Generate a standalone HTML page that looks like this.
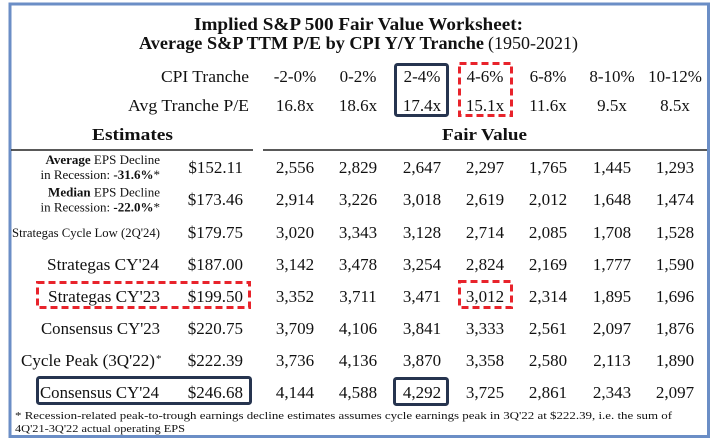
<!DOCTYPE html>
<html>
<head>
<meta charset="utf-8">
<style>
  html, body { margin: 0; padding: 0; background: #ffffff; }
  svg { display: block; }
  text { font-family: "Liberation Serif", "DejaVu Serif", serif; fill: #111111; }
  .b { font-weight: bold; }
</style>
</head>
<body>
<svg width="717" height="445" viewBox="0 0 717 445" xmlns="http://www.w3.org/2000/svg">
  <rect x="0" y="0" width="717" height="445" fill="#ffffff"/>
  <!-- outer border -->
  <rect x="10" y="4" width="698.5" height="432.5" fill="none" stroke="#6b8ec6" stroke-width="3"/>

  <!-- Title -->
  <text class="b" x="194" y="30" font-size="18" textLength="329" lengthAdjust="spacingAndGlyphs">Implied S&amp;P 500 Fair Value Worksheet:</text>
  <text class="b" x="139" y="49" font-size="18" textLength="345" lengthAdjust="spacingAndGlyphs">Average S&amp;P TTM P/E by CPI Y/Y Tranche</text>
  <text x="488" y="49" font-size="18" textLength="90" lengthAdjust="spacingAndGlyphs">(1950-2021)</text>

  <!-- Header rows -->
  <text x="249" y="82" font-size="17" text-anchor="end" textLength="88" lengthAdjust="spacingAndGlyphs">CPI Tranche</text>
  <text x="249" y="111" font-size="17" text-anchor="end" textLength="121" lengthAdjust="spacingAndGlyphs">Avg Tranche P/E</text>

  <g font-size="17" text-anchor="middle">
    <text x="295" y="82">-2-0%</text>
    <text x="358" y="82">0-2%</text>
    <text x="422" y="82">2-4%</text>
    <text x="485" y="82">4-6%</text>
    <text x="548" y="82">6-8%</text>
    <text x="612" y="82">8-10%</text>
    <text x="675" y="82">10-12%</text>

    <text x="295" y="111">16.8x</text>
    <text x="358" y="111">18.6x</text>
    <text x="422" y="111">17.4x</text>
    <text x="485" y="111">15.1x</text>
    <text x="548" y="111">11.6x</text>
    <text x="612" y="111">9.5x</text>
    <text x="675" y="111">8.5x</text>
  </g>

  <!-- header boxes -->
  <rect x="395.5" y="64.5" width="52" height="51" rx="2" fill="none" stroke="#26344f" stroke-width="3"/>
  <rect x="459.5" y="63.5" width="52" height="52" fill="none" stroke="#e8232b" stroke-width="3" stroke-dasharray="7 4"/>

  <!-- Section headers -->
  <text class="b" x="92" y="140" font-size="17" textLength="81" lengthAdjust="spacingAndGlyphs">Estimates</text>
  <text class="b" x="442" y="140" font-size="17" textLength="85" lengthAdjust="spacingAndGlyphs">Fair Value</text>
  <line x1="11" y1="150" x2="253" y2="150" stroke="#222" stroke-width="1.6"/>
  <line x1="263" y1="150" x2="707" y2="150" stroke="#222" stroke-width="1.6"/>

  <!-- Labels -->
  <text x="160" y="164" font-size="13" text-anchor="end"><tspan class="b">Average</tspan> EPS Decline</text>
  <text x="160" y="179" font-size="13" text-anchor="end">in Recession: <tspan class="b">-31.6%</tspan>*</text>
  <text x="160" y="196.5" font-size="13" text-anchor="end"><tspan class="b">Median</tspan> EPS Decline</text>
  <text x="160" y="211.5" font-size="13" text-anchor="end">in Recession: <tspan class="b">-22.0%</tspan>*</text>
  <text x="160" y="237" font-size="13" text-anchor="end" textLength="148" lengthAdjust="spacingAndGlyphs">Strategas Cycle Low (2Q'24)</text>
  <text x="159" y="270" font-size="17" text-anchor="end" textLength="112" lengthAdjust="spacingAndGlyphs">Strategas CY'24</text>
  <text x="160" y="302" font-size="17" text-anchor="end" textLength="112" lengthAdjust="spacingAndGlyphs">Strategas CY'23</text>
  <text x="160" y="334" font-size="17" text-anchor="end" textLength="119" lengthAdjust="spacingAndGlyphs">Consensus CY'23</text>
  <text x="155" y="366" font-size="17" text-anchor="end" textLength="134" lengthAdjust="spacingAndGlyphs">Cycle Peak (3Q'22)</text>
  <text x="156" y="362" font-size="11">*</text>
  <text x="159" y="398" font-size="17" text-anchor="end" textLength="119" lengthAdjust="spacingAndGlyphs">Consensus CY'24</text>

  <!-- EPS -->
  <g font-size="17" text-anchor="end">
    <text x="243" y="173">$152.11</text>
    <text x="243" y="205">$173.46</text>
    <text x="243" y="238">$179.75</text>
    <text x="243" y="270">$187.00</text>
    <text x="243" y="302">$199.50</text>
    <text x="243" y="334">$220.75</text>
    <text x="243" y="366">$222.39</text>
    <text x="243" y="398">$246.68</text>
  </g>

  <!-- Fair values -->
  <g font-size="17" text-anchor="middle">
    <text x="295" y="173">2,556</text><text x="358" y="173">2,829</text><text x="422" y="173">2,647</text><text x="485" y="173">2,297</text><text x="548" y="173">1,765</text><text x="612" y="173">1,445</text><text x="675" y="173">1,293</text>
    <text x="295" y="205">2,914</text><text x="358" y="205">3,226</text><text x="422" y="205">3,018</text><text x="485" y="205">2,619</text><text x="548" y="205">2,012</text><text x="612" y="205">1,648</text><text x="675" y="205">1,474</text>
    <text x="295" y="238">3,020</text><text x="358" y="238">3,343</text><text x="422" y="238">3,128</text><text x="485" y="238">2,714</text><text x="548" y="238">2,085</text><text x="612" y="238">1,708</text><text x="675" y="238">1,528</text>
    <text x="295" y="270">3,142</text><text x="358" y="270">3,478</text><text x="422" y="270">3,254</text><text x="485" y="270">2,824</text><text x="548" y="270">2,169</text><text x="612" y="270">1,777</text><text x="675" y="270">1,590</text>
    <text x="295" y="302">3,352</text><text x="358" y="302">3,711</text><text x="422" y="302">3,471</text><text x="485" y="302">3,012</text><text x="548" y="302">2,314</text><text x="612" y="302">1,895</text><text x="675" y="302">1,696</text>
    <text x="295" y="334">3,709</text><text x="358" y="334">4,106</text><text x="422" y="334">3,841</text><text x="485" y="334">3,333</text><text x="548" y="334">2,561</text><text x="612" y="334">2,097</text><text x="675" y="334">1,876</text>
    <text x="295" y="366">3,736</text><text x="358" y="366">4,136</text><text x="422" y="366">3,870</text><text x="485" y="366">3,358</text><text x="548" y="366">2,580</text><text x="612" y="366">2,113</text><text x="675" y="366">1,890</text>
    <text x="295" y="398">4,144</text><text x="358" y="398">4,588</text><text x="422" y="398">4,292</text><text x="485" y="398">3,725</text><text x="548" y="398">2,861</text><text x="612" y="398">2,343</text><text x="675" y="398">2,097</text>
  </g>

  <!-- row boxes -->
  <rect x="37.5" y="282.5" width="212" height="25" fill="none" stroke="#e8232b" stroke-width="3" stroke-dasharray="7 4"/>
  <rect x="459.5" y="281.5" width="52" height="26" fill="none" stroke="#e8232b" stroke-width="3" stroke-dasharray="7 4"/>
  <rect x="37.5" y="377.5" width="213" height="26" rx="2" fill="none" stroke="#26344f" stroke-width="3"/>
  <rect x="394.5" y="378.5" width="53" height="26" rx="2" fill="none" stroke="#26344f" stroke-width="3"/>

  <!-- Footnote -->
  <text x="15" y="419" font-size="11" fill="#222" textLength="657" lengthAdjust="spacingAndGlyphs">* Recession-related peak-to-trough earnings decline estimates assumes cycle earnings peak in 3Q'22 at $222.39, i.e. the sum of</text>
  <text x="15" y="432" font-size="11" fill="#222" textLength="170" lengthAdjust="spacingAndGlyphs">4Q'21-3Q'22 actual operating EPS</text>
</svg>
</body>
</html>
